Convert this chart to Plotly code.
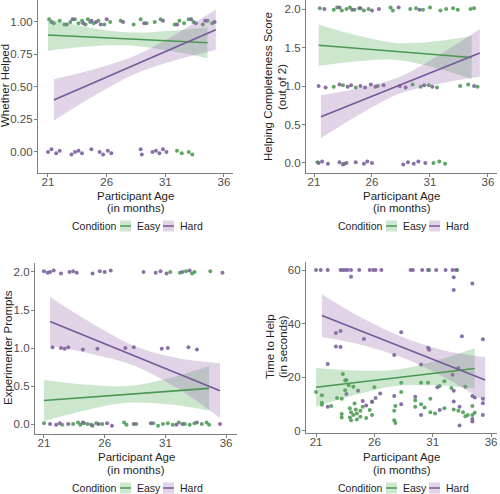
import plotly.graph_objects as go

# ---------------- data ----------------
AGE_TICKS = [21, 26, 31, 36]
X_TITLE = ["Participant Age", "(in months)"]
CONDITIONS = ["Easy", "Hard"]

# Panel 1: Whether Helped
p1_easy_age = [21.1, 21.5, 22.0, 22.4, 22.9, 23.3, 23.6, 23.9, 24.2, 24.4, 24.6, 24.9, 25.3, 25.8, 26.3,
               27.2, 28.3, 28.9, 29.4, 30.1, 30.6, 31.8, 32.2, 32.6, 33.0, 33.4, 34.2, 34.6, 35.0,
               32.0, 32.4, 33.0, 33.3]
p1_easy_val = [1.02, 0.99, 1.01, 0.98, 1.00, 1.02, 0.99, 1.01, 0.98, 1.02, 1.00, 0.99, 1.01, 0.98, 1.00,
               1.01, 0.98, 1.02, 0.99, 1.00, 1.02, 0.98, 1.01, 0.99, 1.02, 1.00, 0.98, 1.01, 0.99,
               0.01, -0.01, 0.00, -0.02]
p1_hard_age = [21.3, 22.6, 23.1, 24.0, 24.7, 25.1, 25.5, 26.0, 27.4, 29.2, 30.8, 32.0, 33.2, 33.6, 34.4, 35.2,
               21.0, 21.3, 21.7, 22.0, 23.0, 23.3, 23.6, 23.9, 24.7, 25.4, 25.7, 26.1, 26.4, 28.9, 29.0,
               29.9, 30.2, 30.5, 30.8, 31.1]
p1_hard_val = [1.00, 0.98, 1.02, 0.99, 1.01, 1.00, 0.98, 1.02, 1.00, 0.99, 1.01, 0.98, 1.02, 0.99, 1.01, 1.00,
               0.00, 0.02, -0.01, 0.01, -0.02, 0.00, 0.01, -0.01, 0.02, 0.00, -0.02, 0.01, -0.01, 0.02, -0.02,
               0.00, 0.01, -0.01, 0.02, 0.00]
p1_easy_fit_age = [21.0, 24.5, 28.0, 31.5, 34.6]
p1_easy_fit = [0.900, 0.885, 0.869, 0.854, 0.840]
p1_easy_lo = [0.778, 0.812, 0.819, 0.776, 0.720]
p1_easy_hi = [1.022, 0.958, 0.919, 0.932, 0.960]
p1_hard_fit_age = [21.5, 25.0, 28.5, 32.0, 35.3]
p1_hard_fit = [0.400, 0.537, 0.674, 0.811, 0.940]
p1_hard_lo = [0.240, 0.436, 0.604, 0.710, 0.785]
p1_hard_hi = [0.560, 0.638, 0.744, 0.912, 1.095]

# Panel 2: Helping Completeness Score
p2_easy_age = [21.5, 22.7, 23.0, 23.4, 23.8, 24.1, 24.5, 24.9, 25.3, 25.7, 27.6, 27.8, 29.3, 29.8, 30.4,
               31.0, 31.9, 32.4, 33.0, 33.4, 34.5, 34.8,
               22.7, 23.5, 24.6, 26.5, 29.5, 30.2, 30.9, 31.6, 33.6, 34.3, 35.1,
               21.3, 23.6, 31.3, 31.8, 32.3]
p2_easy_val = [2.01, 1.99, 2.02, 1.98, 2.00, 2.02, 1.99, 2.01, 1.98, 2.00, 2.02, 1.98, 2.00, 2.01, 1.99,
               2.02, 1.98, 2.00, 2.01, 1.99, 2.00, 2.01,
               0.99, 1.01, 0.98, 1.00, 1.02, 0.99, 1.01, 0.98, 1.00, 1.02, 0.99,
               0.01, -0.01, 0.00, 0.02, -0.01]
p2_hard_age = [21.9, 23.2, 24.3, 25.0, 26.0, 26.6, 28.3, 30.1,
               21.4, 22.0, 23.2, 23.9, 24.2, 25.0, 25.4, 25.9, 26.3, 27.0, 28.4, 28.9, 30.5, 31.2, 34.8,
               21.4, 21.7, 22.2, 23.2, 23.5, 23.8, 24.6, 25.3, 25.6, 26.0, 28.7, 29.1, 29.6, 30.0, 30.6]
p2_hard_val = [2.00, 2.02, 1.99, 2.01, 1.98, 2.00, 2.02, 1.99,
               1.00, 0.98, 1.02, 0.99, 1.01, 1.00, 0.98, 1.02, 0.99, 1.01, 1.00, 0.98, 1.01, 0.99, 1.00,
               0.00, 0.02, -0.01, 0.01, -0.02, 0.00, 0.01, -0.01, 0.02, 0.00, -0.02, 0.01, -0.01, 0.02, 0.00]
p2_easy_fit_age = [21.4, 24.7, 28.0, 31.3, 34.6]
p2_easy_fit = [1.53, 1.49, 1.45, 1.41, 1.37]
p2_easy_lo = [1.26, 1.322, 1.34, 1.242, 1.09]
p2_easy_hi = [1.80, 1.658, 1.56, 1.578, 1.65]
p2_hard_fit_age = [21.6, 25.0, 28.45, 31.9, 35.3]
p2_hard_fit = [0.60, 0.806, 1.015, 1.224, 1.43]
p2_hard_lo = [0.32, 0.636, 0.905, 1.034, 1.12]
p2_hard_hi = [0.88, 0.976, 1.125, 1.414, 1.74]

# Panel 3: Experimenter Prompts
p3_easy_age = [31.4, 32.2, 32.7, 33.2, 33.4, 34.7,
               21.0, 22.5, 23.4, 23.8, 24.0, 24.3, 24.6, 25.0, 25.3, 25.8, 27.6, 27.8, 28.6, 30.0, 30.4,
               30.8, 31.2, 31.6, 32.1, 32.6, 33.0, 33.4, 34.0, 34.4, 34.6]
p3_easy_val = [2.00, 1.99, 2.01, 1.98, 2.00, 2.01,
               0.01, -0.01, 0.00, 0.02, -0.01, 0.01, 0.00, -0.02, 0.01, 0.00, 0.02, -0.01, 0.00, 0.01, -0.02,
               0.00, 0.01, -0.01, 0.02, 0.00, -0.01, 0.01, 0.00, 0.02, -0.01]
p3_hard_age = [21.0, 21.3, 21.5, 21.8, 22.4, 23.1, 23.4, 23.7, 25.0, 25.6, 26.0, 26.5, 29.2, 30.2, 30.6,
               31.1, 32.4, 33.0, 35.7,
               21.7, 22.4, 22.7, 23.0, 24.2, 25.4, 27.7, 28.4, 30.7, 31.2, 32.9, 33.6,
               21.5, 22.0, 22.3, 23.0, 24.2, 24.9, 25.5, 26.2, 26.6, 28.4, 29.8, 31.9, 32.4, 33.6, 35.5]
p3_hard_val = [2.01, 1.99, 2.00, 2.02, 1.98, 2.00, 2.01, 1.99, 1.98, 2.01, 2.00, 2.02, 2.00, 1.99, 2.01,
               1.98, 2.00, 2.02, 1.99,
               1.01, 1.00, 0.99, 1.01, 0.98, 0.99, 1.00, 1.01, 0.99, 1.00, 1.01, 0.98,
               0.00, -0.01, 0.01, 0.00, 0.02, -0.01, 0.00, 0.01, -0.02, 0.00, 0.01, -0.01, 0.00, 0.02, 0.00]
p3_easy_fit_age = [21.0, 24.4, 27.8, 31.2, 34.6]
p3_easy_fit = [0.31, 0.35, 0.39, 0.43, 0.47]
p3_easy_lo = [0.04, 0.18, 0.28, 0.26, 0.18]
p3_easy_hi = [0.58, 0.52, 0.50, 0.60, 0.76]
p3_hard_fit_age = [21.5, 25.0, 28.5, 32.0, 35.5]
p3_hard_fit = [1.35, 1.1225, 0.895, 0.6675, 0.44]
p3_hard_lo = [1.03, 0.92, 0.765, 0.47, 0.08]
p3_hard_hi = [1.67, 1.32, 1.025, 0.87, 0.80]

# Panel 4: Time to Help (seconds)
p4_easy_age = [21.0, 21.5, 21.5, 21.5, 22.3, 22.8, 23.2, 23.2, 23.2, 23.3, 23.5, 23.5, 23.6, 23.8, 23.9,
               23.9, 24.0, 24.0, 24.2, 24.3, 24.4, 24.5, 24.5, 24.8, 24.8, 24.2, 25.0, 25.3, 25.6, 25.8,
               25.8, 26.0, 27.7, 27.7, 27.8, 27.8, 28.3, 28.3, 29.5, 29.5, 30.0, 30.0, 30.3, 30.6, 30.8,
               30.8, 31.2, 31.6, 32.0, 32.0, 32.6, 32.8, 33.2, 33.6, 33.8, 33.8, 34.4, 34.4, 34.6, 34.0,
               30.7, 33.1]
p4_easy_val = [14.5, 13.3, 10.5, 9.8, 9.3, 12.3, 12.0, 6.3, 5.0, 21.2, 15.2, 18.8, 19.0, 17.0, 8.5,
               5.0, 7.0, 4.0, 6.0, 10.2, 8.0, 4.3, 6.5, 5.3, 7.5, 16.5, 9.0, 4.8, 7.8, 11.0,
               6.0, 16.3, 7.5, 4.0, 3.0, 9.3, 18.0, 14.5, 9.0, 11.5, 10.0, 18.0, 8.8, 18.0, 12.0,
               7.0, 6.5, 16.8, 8.5, 18.5, 16.0, 8.0, 7.5, 7.0, 16.5, 5.5, 9.3, 6.0, 6.8, 6.0,
               60.0, 60.0]
p4_hard_age = [21.0, 21.4, 22.0, 23.1, 23.3, 23.5, 23.7, 24.0, 24.7, 25.6, 25.9, 26.1, 26.6, 29.1, 29.3,
               30.1, 30.6, 31.3, 32.1, 32.7, 33.0,
               24.0, 32.8, 32.8, 34.4, 22.7, 23.1, 22.7, 23.1, 25.1, 28.3, 27.7, 30.6, 30.7, 33.5, 35.3,
               22.0, 33.2, 32.7, 30.0, 34.4, 34.6, 35.3, 35.3, 22.0, 24.6, 25.3, 25.8, 26.1, 26.5, 27.7,
               28.3, 29.5, 30.0, 31.6, 32.8, 33.3, 33.3, 34.4, 34.4, 35.3, 32.8, 31.4, 25.0, 23.6]
p4_hard_val = [60.0, 60.0, 60.0, 60.0, 60.0, 60.0, 60.0, 60.0, 60.0, 60.0, 60.0, 60.0, 60.0, 60.0, 60.0,
               60.0, 60.0, 60.0, 60.0, 60.0, 60.0,
               57.5, 57.3, 52.5, 55.0, 36.5, 37.3, 31.5, 31.3, 34.3, 36.8, 28.3, 31.0, 30.3, 35.3, 34.2,
               25.0, 23.5, 21.0, 24.8, 13.0, 12.5, 12.0, 10.3, 9.0, 15.0, 9.5, 10.8, 12.3, 14.0, 13.0,
               10.0, 12.8, 6.0, 7.8, 11.0, 9.0, 2.0, 3.5, 4.5, 6.0, 15.0, 16.3, 11.2, 13.8]
p4_easy_fit_age = [21.0, 24.4, 27.8, 31.2, 34.6]
p4_easy_fit = [16.3, 18.05, 19.8, 21.55, 23.3]
p4_easy_lo = [9.1, 13.55, 16.8, 17.0, 15.8]
p4_easy_hi = [23.5, 22.55, 22.8, 26.1, 30.8]
p4_hard_fit_age = [21.5, 25.0, 28.5, 32.0, 35.5]
p4_hard_fit = [43.0, 37.0, 31.0, 25.0, 19.0]
p4_hard_lo = [35.0, 32.0, 27.2, 20.0, 10.8]
p4_hard_hi = [51.0, 42.0, 34.8, 30.0, 27.5]

# ---------------- styling ----------------
W, H = 500, 494
FONT = "Liberation Sans, Arial, sans-serif"
PT = {"Easy": "#4f9d57", "Hard": "#7d619e"}
LINE = {"Easy": "#4a9652", "Hard": "#77599a"}
FILL = {"Easy": "rgba(90,174,97,0.30)", "Hard": "rgba(153,112,171,0.30)"}
KEYFILL = {"Easy": "#cee7d0", "Hard": "#e0d4e6"}
AXIS_C = "#7f7f7f"
TICK_C = "#4d4d4d"
TITLE_C = "#1f1f1f"
FS = 11.5
LFS = 10.5


def px(x):
    return x / W


def py(y):
    return 1 - y / H


panels = [
    dict(pts={"Easy": (p1_easy_age, p1_easy_val), "Hard": (p1_hard_age, p1_hard_val)},
         fit={"Easy": (p1_easy_fit_age, p1_easy_fit, p1_easy_lo, p1_easy_hi),
              "Hard": (p1_hard_fit_age, p1_hard_fit, p1_hard_lo, p1_hard_hi)},
         xd=(38, 233), yd=(0, 173), xr=(20.15, 36.77), yr=(-0.162, 1.169),
         yt=[0, 0.25, 0.5, 0.75, 1.0], fmt=".2f",
         ytitle=["Whether Helped"], ytx=[5], yty=86, xty=(196, 208), leg_x=70, leg_y=226),
    dict(pts={"Easy": (p2_easy_age, p2_easy_val), "Hard": (p2_hard_age, p2_hard_val)},
         fit={"Easy": (p2_easy_fit_age, p2_easy_fit, p2_easy_lo, p2_easy_hi),
              "Hard": (p2_hard_fit_age, p2_hard_fit, p2_hard_lo, p2_hard_hi)},
         xd=(306, 497), yd=(0, 173), xr=(20.31, 36.78), yr=(-0.13, 2.117),
         yt=[0, 0.5, 1.0, 1.5, 2.0], fmt=".1f",
         ytitle=["Helping Completeness Score", "(out of 2)"], ytx=[268, 282], yty=87,
         xty=(196, 208), leg_x=336, leg_y=226),
    dict(pts={"Easy": (p3_easy_age, p3_easy_val), "Hard": (p3_hard_age, p3_hard_val)},
         fit={"Easy": (p3_easy_fit_age, p3_easy_fit, p3_easy_lo, p3_easy_hi),
              "Hard": (p3_hard_fit_age, p3_hard_fit, p3_hard_lo, p3_hard_hi)},
         xd=(35, 237), yd=(263, 434), xr=(20.26, 36.9), yr=(-0.13, 2.118),
         yt=[0, 0.5, 1.0, 1.5, 2.0], fmt=".1f",
         ytitle=["Experimenter Prompts"], ytx=[8], yty=348,
         xty=(457, 470), leg_x=70, leg_y=488),
    dict(pts={"Easy": (p4_easy_age, p4_easy_val), "Hard": (p4_hard_age, p4_hard_val)},
         fit={"Easy": (p4_easy_fit_age, p4_easy_fit, p4_easy_lo, p4_easy_hi),
              "Hard": (p4_hard_fit_age, p4_hard_fit, p4_hard_lo, p4_hard_hi)},
         xd=(306, 497), yd=(262, 433), xr=(20.14, 36.51), yr=(-0.75, 62.98),
         yt=[0, 20, 40, 60], fmt="d",
         ytitle=["Time to Help", "(in seconds)"], ytx=[270, 283], yty=347,
         xty=(457, 470), leg_x=336, leg_y=488),
]

fig = go.Figure()
annotations = []
shapes = []
layout_axes = {}

for i, p in enumerate(panels, start=1):
    xa = "x" if i == 1 else f"x{i}"
    ya = "y" if i == 1 else f"y{i}"
    # points
    for c in CONDITIONS:
        ages, vals = p["pts"][c]
        fig.add_trace(go.Scatter(x=ages, y=vals, mode="markers", xaxis=xa, yaxis=ya,
                                 marker=dict(size=4, color=PT[c], opacity=0.9, line=dict(width=0)),
                                 showlegend=False, hoverinfo="x+y", name=c))
    # ribbons
    for c in CONDITIONS:
        fa, ff, lo, hi = p["fit"][c]
        fig.add_trace(go.Scatter(x=fa, y=lo, mode="lines", xaxis=xa, yaxis=ya,
                                 line=dict(width=0, shape="spline", smoothing=1.0),
                                 showlegend=False, hoverinfo="skip"))
        fig.add_trace(go.Scatter(x=fa, y=hi, mode="lines", xaxis=xa, yaxis=ya, fill="tonexty",
                                 fillcolor=FILL[c], line=dict(width=0, shape="spline", smoothing=1.0),
                                 showlegend=False, hoverinfo="skip"))
    # fitted lines
    for c in CONDITIONS:
        fa, ff, lo, hi = p["fit"][c]
        fig.add_trace(go.Scatter(x=fa, y=ff, mode="lines", xaxis=xa, yaxis=ya,
                                 line=dict(width=1.6, color=LINE[c]),
                                 showlegend=False, name=c))

    xk = "xaxis" if i == 1 else f"xaxis{i}"
    yk = "yaxis" if i == 1 else f"yaxis{i}"
    layout_axes[xk] = dict(domain=[px(p["xd"][0]), px(p["xd"][1])], range=list(p["xr"]),
                           anchor=ya, tickvals=AGE_TICKS, ticks="outside", ticklen=3,
                           tickcolor=AXIS_C, tickwidth=1, showline=True, linecolor=AXIS_C,
                           linewidth=1.3, showgrid=False, zeroline=False, automargin=False,
                           ticklabelstandoff=-5,
                           tickfont=dict(family=FONT, size=FS, color=TICK_C))
    layout_axes[yk] = dict(domain=[py(p["yd"][1]), py(p["yd"][0])], range=list(p["yr"]),
                           anchor=xa, tickvals=p["yt"], tickformat=p["fmt"], ticks="outside",
                           ticklen=3, tickcolor=AXIS_C, tickwidth=1, showline=True,
                           linecolor=AXIS_C, linewidth=1.3, showgrid=False, zeroline=False,
                           automargin=False, ticklabelstandoff=-1,
                           tickfont=dict(family=FONT, size=FS, color=TICK_C))

    # axis titles
    xc = (p["xd"][0] + p["xd"][1]) / 2
    for txt, yy in zip(X_TITLE, p["xty"]):
        annotations.append(dict(text=txt, x=px(xc), y=py(yy), xref="paper", yref="paper",
                                xanchor="center", yanchor="middle", showarrow=False,
                                font=dict(family=FONT, size=FS, color=TITLE_C)))
    for txt, xx in zip(p["ytitle"], p["ytx"]):
        annotations.append(dict(text=txt, x=px(xx), y=py(p["yty"]), xref="paper", yref="paper",
                                xanchor="center", yanchor="middle", textangle=-90, showarrow=False,
                                font=dict(family=FONT, size=FS, color=TITLE_C)))

    # legend (drawn)
    lx, ly = p["leg_x"], p["leg_y"]
    annotations.append(dict(text="Condition", x=px(lx), y=py(ly), xref="paper", yref="paper",
                            xanchor="left", yanchor="middle", showarrow=False,
                            font=dict(family=FONT, size=LFS, color=TITLE_C)))
    kx = lx + 50
    for c in CONDITIONS:
        shapes.append(dict(type="rect", xref="paper", yref="paper", x0=px(kx), x1=px(kx + 11),
                           y0=py(ly + 5.5), y1=py(ly - 5.5), fillcolor=KEYFILL[c],
                           line=dict(width=0), layer="above"))
        shapes.append(dict(type="line", xref="paper", yref="paper", x0=px(kx), x1=px(kx + 11),
                           y0=py(ly), y1=py(ly), line=dict(color=LINE[c], width=1.5),
                           layer="above"))
        annotations.append(dict(text=c, x=px(kx + 15), y=py(ly), xref="paper", yref="paper",
                                xanchor="left", yanchor="middle", showarrow=False,
                                font=dict(family=FONT, size=LFS, color=TITLE_C)))
        kx += 43

fig.update_layout(width=W, height=H, autosize=False, margin=dict(l=0, r=0, t=0, b=0),
                  paper_bgcolor="white", plot_bgcolor="white", showlegend=False,
                  annotations=annotations, shapes=shapes, font=dict(family=FONT),
                  **layout_axes)

fig.write_html("out.html", config={"displayModeBar": False},
               post_script="document.body.style.margin='0px';document.body.style.padding='0px';")
